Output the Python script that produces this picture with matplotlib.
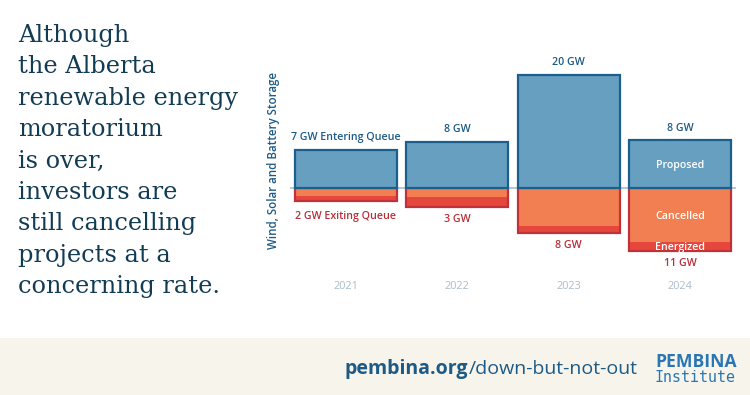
import matplotlib
matplotlib.use("Agg")
import matplotlib.pyplot as plt
from matplotlib.patches import Rectangle

# ---- data ----
years = ['2021', '2022', '2023', '2024']
proposed = [6.7, 8.2, 20.0, 8.4]
cancelled = [1.5, 1.6, 6.9, 9.6]
energized = [0.9, 1.8, 1.2, 1.7]
top_labels = ['7 GW Entering Queue', '8 GW', '20 GW', '8 GW']
bottom_labels = ['2 GW Exiting Queue', '3 GW', '8 GW', '11 GW']
headline = ['Although', 'the Alberta', 'renewable energy', 'moratorium',
            'is over,', 'investors are', 'still cancelling',
            'projects at a', 'concerning rate.']

# ---- colours ----
BLUE_FILL = '#679fc1'
BLUE_EDGE = '#1b5f8c'
ORANGE = '#f27f52'
RED_FILL = '#e5473d'
RED_EDGE = '#c23139'
BLUE_TXT = '#1d5b86'
RED_TXT = '#b8303a'
NAVY = '#123b54'
YEAR_C = '#a9bccb'
ZERO_C = '#a9c0d0'

W, H = 750, 395
fig = plt.figure(figsize=(W / 100, H / 100), dpi=100)
fig.patch.set_facecolor('white')

# footer band
fig.patches.append(Rectangle((0, 0), 1, 57 / H, transform=fig.transFigure,
                             facecolor='#f6f4eb', edgecolor='none', zorder=0))

# axes: pixel rows 50..300 from top, cols 290.3..735.6
left_px, right_px = 290.3, 735.6
top_px, bot_px = 50, 300
ax = fig.add_axes([left_px / W, 1 - bot_px / H, (right_px - left_px) / W,
                   (bot_px - top_px) / H])
ax.set_xlim(-0.5, 3.5)
ax.set_ylim(-19.98, 24.5)
ax.axis('off')

x = list(range(len(years)))
bw = 0.917
neg_total = [c + e for c, e in zip(cancelled, energized)]

ax.bar(x, proposed, width=bw, color=BLUE_FILL, edgecolor=BLUE_EDGE,
       linewidth=1.6, zorder=3)
ax.bar(x, [-c for c in cancelled], width=bw, color=ORANGE, linewidth=0, zorder=2)
ax.bar(x, [-e for e in energized], bottom=[-c for c in cancelled], width=bw,
       color=RED_FILL, linewidth=0, zorder=2)
ax.bar(x, [-t for t in neg_total], width=bw, fill=False, edgecolor=RED_EDGE,
       linewidth=1.6, zorder=2.5)
ax.axhline(0, color=ZERO_C, linewidth=1.2, zorder=1)

lab_font = dict(family='Open Sans', fontweight='semibold', fontsize=7.7)
bottom_offsets = [-7, -5, -5, -5]
for i in x:
    ax.annotate(top_labels[i], (i, proposed[i]), xytext=(0, 5),
                textcoords='offset points', ha='center', va='bottom',
                color=BLUE_TXT, **lab_font)
    ax.annotate(bottom_labels[i], (i, -neg_total[i]), xytext=(0, bottom_offsets[i]),
                textcoords='offset points', ha='center', va='top',
                color=RED_TXT, **lab_font)
    ax.text(i, -17.6, years[i], ha='center', va='center', color=YEAR_C,
            family='Open Sans', fontsize=7.8)

# inside labels for the last bar
last = len(years) - 1
ax.text(last, proposed[last] / 2 - 0.3, 'Proposed', ha='center', va='center',
        color='white', **lab_font)
ax.text(last, -cancelled[last] / 2 - 0.3, 'Cancelled', ha='center', va='center',
        color='white', **lab_font)
ax.text(last, -cancelled[last] - energized[last] / 2 - 0.2, 'Energized',
        ha='center', va='center', color='white', **lab_font)

# y-axis label
fig.text(274 / W, 1 - 161 / H, 'Wind, Solar and Battery Storage', rotation=90,
         ha='center', va='center', color=BLUE_TXT, family='Open Sans',
         fontweight='semibold', fontsize=8.3)

# headline on the left
for k, line in enumerate(headline):
    base = 42 + 31.4 * k
    fig.text(18 / W, 1 - base / H, line, ha='left', va='baseline',
             color=NAVY, family='DejaVu Serif', fontsize=17.3)

# footer texts
t1 = fig.text(345 / W, 1 - 374 / H, 'pembina.org', ha='left', va='baseline',
              color=BLUE_TXT, family='Open Sans', fontweight='bold', fontsize=14)
fig.canvas.draw()
bb = t1.get_window_extent()
fig.text(bb.x1 / W, 1 - 374 / H, '/down-but-not-out', ha='left', va='baseline',
         color=BLUE_TXT, family='Open Sans', fontsize=14)
fig.text(655 / W, 1 - 367 / H, 'PEMBINA', ha='left', va='baseline',
         color='#2a76b2', family='Open Sans', fontweight='bold', fontsize=12.6)
fig.text(655 / W, 1 - 382 / H, 'Institute', ha='left', va='baseline',
         color='#2a76b2', family='DejaVu Sans Mono', fontsize=10.8)

fig.savefig('out.png', dpi=100)
